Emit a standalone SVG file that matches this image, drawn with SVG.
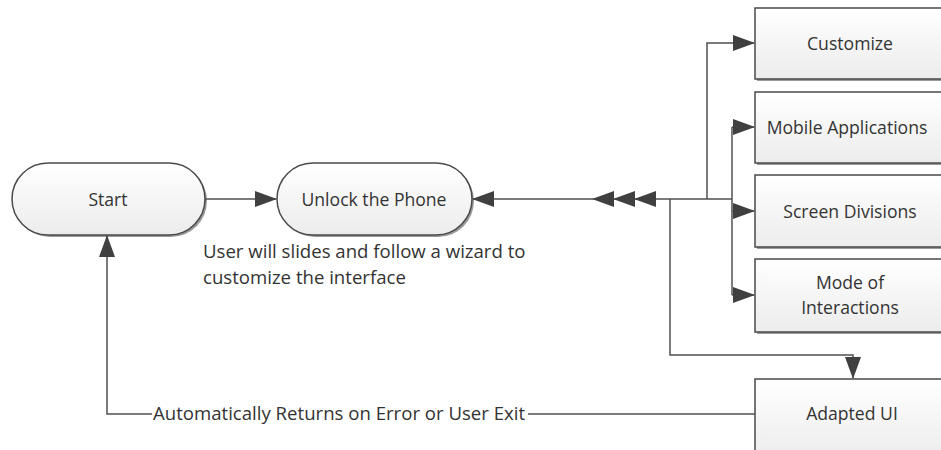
<svg xmlns="http://www.w3.org/2000/svg" width="941" height="450" viewBox="0 0 941 450">
<defs>
<linearGradient id="g" x1="0" y1="0" x2="0" y2="1">
<stop offset="0" stop-color="#ffffff"/>
<stop offset="1" stop-color="#ececec"/>
</linearGradient>
<marker id="ah" markerUnits="userSpaceOnUse" markerWidth="22" markerHeight="18" refX="21" refY="8" orient="auto">
<path d="M0,0 L22,8 L0,16 z" fill="#404040"/>
</marker>
</defs>
<style>
.n{fill:url(#g);stroke:#4a4a4a;stroke-width:1.5}
.sh{fill:#9a9a9a}
.t{font-family:"Open Sans","Noto Sans",sans-serif;font-size:17.6px;fill:#333;text-anchor:middle;dominant-baseline:central}
.tl{font-family:"Open Sans","Noto Sans",sans-serif;font-size:18.6px;fill:#333}
.c{fill:none;stroke:#505050;stroke-width:1.5}
.h{fill:#404040}
</style>
<rect width="941" height="450" fill="#fff"/>
<g id="start">
<rect class="sh" x="14" y="165" width="193" height="72" rx="36"/>
<rect class="n" x="12" y="163" width="193" height="72" rx="36"/>
<text class="t" x="108" y="199">Start</text>
</g>
<g id="unlock">
<rect class="sh" x="279" y="165" width="195" height="72" rx="36"/>
<rect class="n" x="277" y="163" width="195" height="72" rx="36"/>
<text class="t" x="374" y="199">Unlock the Phone</text>
</g>
<g id="note">
<text class="tl" x="203" y="258">User will slides and follow a wizard to</text>
<text class="tl" x="203" y="284">customize the interface</text>
</g>
<g id="customize">
<rect class="sh" x="757" y="10" width="190" height="71"/>
<rect class="n" x="755" y="8" width="190" height="71"/>
<text class="t" x="850" y="43">Customize</text>
</g>
<g id="mobile">
<rect class="sh" x="757" y="94" width="190" height="71"/>
<rect class="n" x="755" y="92" width="190" height="71"/>
<text class="t" x="847" y="127">Mobile Applications</text>
</g>
<g id="screen">
<rect class="sh" x="757" y="177" width="190" height="72"/>
<rect class="n" x="755" y="175" width="190" height="72"/>
<text class="t" x="850" y="211">Screen Divisions</text>
</g>
<g id="mode">
<rect class="sh" x="757" y="261" width="190" height="73"/>
<rect class="n" x="755" y="259" width="190" height="73"/>
<text class="t" x="850" y="282">Mode of</text>
<text class="t" x="850" y="307">Interactions</text>
</g>
<g id="adapted">
<rect class="sh" x="757" y="381" width="190" height="80"/>
<rect class="n" x="755" y="379" width="190" height="80"/>
<text class="t" x="852" y="413">Adapted UI</text>
</g>
<g id="connectors">
<path class="c" d="M205,199 H276" marker-end="url(#ah)"/>
<path class="c" d="M670,199 H473" marker-end="url(#ah)"/>
<path class="h" d="M592,199 L614,191 L614,207 z"/>
<path class="h" d="M613,199 L635,191 L635,207 z"/>
<path class="h" d="M634,199 L656,191 L656,207 z"/>
<path class="c" d="M670,199 H732"/>
<path class="c" d="M707,199 V43 H754" marker-end="url(#ah)"/>
<path class="c" d="M732,127 V295"/>
<path class="c" d="M732,127 H754" marker-end="url(#ah)"/>
<path class="c" d="M732,211 H754" marker-end="url(#ah)"/>
<path class="c" d="M732,295 H754" marker-end="url(#ah)"/>
<path class="c" d="M670,199 V355 H853 V378" marker-end="url(#ah)"/>
<path class="c" d="M755,414 H528"/>
<path class="c" d="M152,414 H107 V236" marker-end="url(#ah)"/>
<text class="tl" x="153" y="420">Automatically Returns on Error or User Exit</text>
</g>
</svg>
